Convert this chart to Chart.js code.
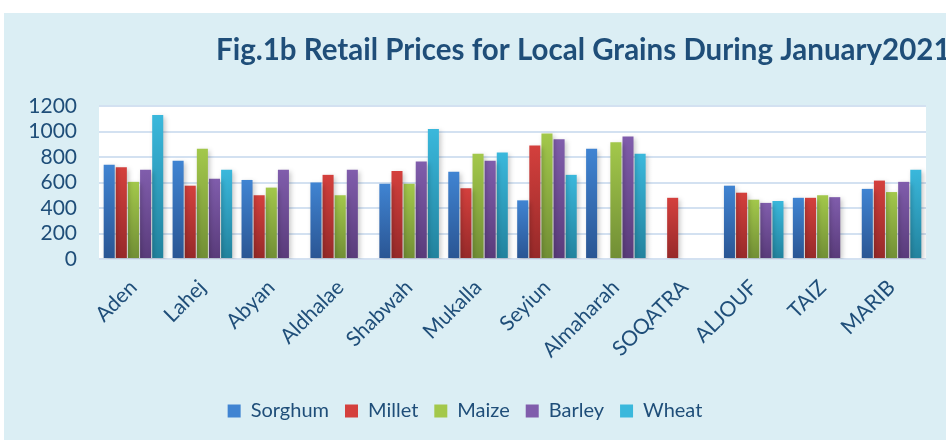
<!DOCTYPE html>
<html>
<head>
<meta charset="utf-8">
<script src="https://cdn.jsdelivr.net/npm/chart.js@4/dist/chart.umd.min.js"></script>
<style>
  html, body { margin: 0; padding: 0; background: #fff; }
  #wrap { position: absolute; left: 4px; top: 13px; width: 942px; height: 427px; background: #DBEEF4; }
</style>
</head>
<body>
<div id="wrap"><canvas id="grains"></canvas></div>
<script>
    "use strict";

    // Data
    var governorates = ["Aden", "Lahej", "Abyan", "Aldhalae", "Shabwah", "Mukalla", "Seyiun", "Almaharah", "SOQATRA", "ALJOUF", "TAIZ", "MARIB"];
    var sorghum = [740, 770, 620, 600, 590, 685, 460, 865, null, 575, 480, 550];
    var millet  = [720, 575, 500, 660, 690, 555, 890, null, 480, 520, 480, 615];
    var maize   = [605, 865, 560, 500, 590, 825, 985, 915, null, 465, 500, 525];
    var barley  = [700, 630, 700, 700, 765, 770, 940, 960, null, 440, 485, 605];
    var wheat   = [1130, 700, null, null, 1020, 835, 660, 825, null, 455, null, 700];
    var yTicks  = [0, 200, 400, 600, 800, 1000, 1200];

    var textColor = "#1F4E79";
    var fontFamily = "Lato, 'Open Sans', sans-serif";

    // top / bottom of each bar gradient
    var palette = {
        Sorghum: ["#4084D2", "#2A5593"],
        Millet:  ["#D4403D", "#962929"],
        Maize:   ["#A3C84B", "#718E35"],
        Barley:  ["#805DAC", "#593B7A"],
        Wheat:   ["#3AB8DC", "#22829D"]
    };

    function barFill(name) {
        return function(context) {
            var chart = context.chart;
            var y = chart.scales.y;
            var v = context.raw;
            if (!chart.chartArea || !y || v == null) {
                return palette[name][0];
            }
            var top = y.getPixelForValue(v);
            var bottom = y.getPixelForValue(0);
            if (!isFinite(top) || bottom - top < 1) {
                return palette[name][0];
            }
            var g = chart.ctx.createLinearGradient(0, top, 0, bottom);
            g.addColorStop(0, palette[name][0]);
            g.addColorStop(1, palette[name][1]);
            return g;
        };
    }

    function makeSet(name, values) {
        return {
            label: name,
            data: values,
            backgroundColor: barFill(name),
            borderWidth: 0,
            categoryPercentage: 0.88,
            barPercentage: 0.91
        };
    }

    // White plot area + title
    var decor = {
        id: "decor",
        beforeDraw: function(chart) {
            var a = chart.chartArea;
            var ctx = chart.ctx;
            ctx.save();
            ctx.fillStyle = "#FFFFFF";
            ctx.fillRect(a.left, a.top, a.right - a.left, a.bottom - a.top);
            ctx.fillStyle = textColor;
            ctx.font = "bold 29.5px " + fontFamily;
            ctx.textAlign = "left";
            ctx.textBaseline = "alphabetic";
            ctx.fillText("Fig.1b Retail Prices for Local Grains During January2021", 212, 47);
            ctx.restore();
        },
        beforeDatasetsDraw: function(chart) {
            var ctx = chart.ctx;
            ctx.save();
            ctx.shadowColor = "rgba(0,0,0,0.22)";
            ctx.shadowBlur = 5;
            ctx.shadowOffsetX = 2;
            ctx.shadowOffsetY = 2;
        },
        afterDatasetsDraw: function(chart) {
            chart.ctx.restore();
        }
    };

    var ctx = document.getElementById("grains");
    var grainChart = new Chart(ctx, {
        type: "bar",
        data: {
            labels: governorates,
            datasets: [
                makeSet("Sorghum", sorghum),
                makeSet("Millet", millet),
                makeSet("Maize", maize),
                makeSet("Barley", barley),
                makeSet("Wheat", wheat)
            ]
        },
        options: {
            responsive: true,
            maintainAspectRatio: false,
            animation: false,
            layout: { padding: { top: 93, right: 20, left: 0, bottom: 9 } },
            scales: {
                x: {
                    grid: { display: false },
                    border: { display: false },
                    ticks: {
                        color: textColor,
                        font: { family: fontFamily, size: 21 },
                        minRotation: 45,
                        maxRotation: 45,
                        padding: 8
                    },
                    afterFit: function(scale) { scale.height = 126; }
                },
                y: {
                    min: 0,
                    max: 1200,
                    afterBuildTicks: function(scale) {
                        scale.ticks = yTicks.map(function(v) { return { value: v }; });
                    },
                    grid: { color: "#D3E1F1", lineWidth: 2, drawTicks: false },
                    border: { display: false },
                    ticks: {
                        color: textColor,
                        font: { family: fontFamily, size: 21 },
                        padding: 22,
                        autoSkip: false,
                        callback: function(value) { return String(value); }
                    },
                    afterFit: function(scale) { scale.width = 95; }
                }
            },
            plugins: {
                title: { display: false },
                tooltip: { enabled: false },
                legend: {
                    position: "bottom",
                    labels: {
                        color: textColor,
                        font: { family: fontFamily, size: 20 },
                        boxWidth: 13,
                        boxHeight: 13,
                        padding: 16,
                        generateLabels: function(chart) {
                            var items = Chart.defaults.plugins.legend.labels.generateLabels(chart);
                            items.forEach(function(it) {
                                var c = palette[it.text];
                                it.fillStyle = c[0];
                                it.strokeStyle = c[0];
                                it.lineWidth = 0;
                            });
                            return items;
                        }
                    }
                }
            }
        },
        plugins: [decor]
    });
</script>
</body>
</html>
